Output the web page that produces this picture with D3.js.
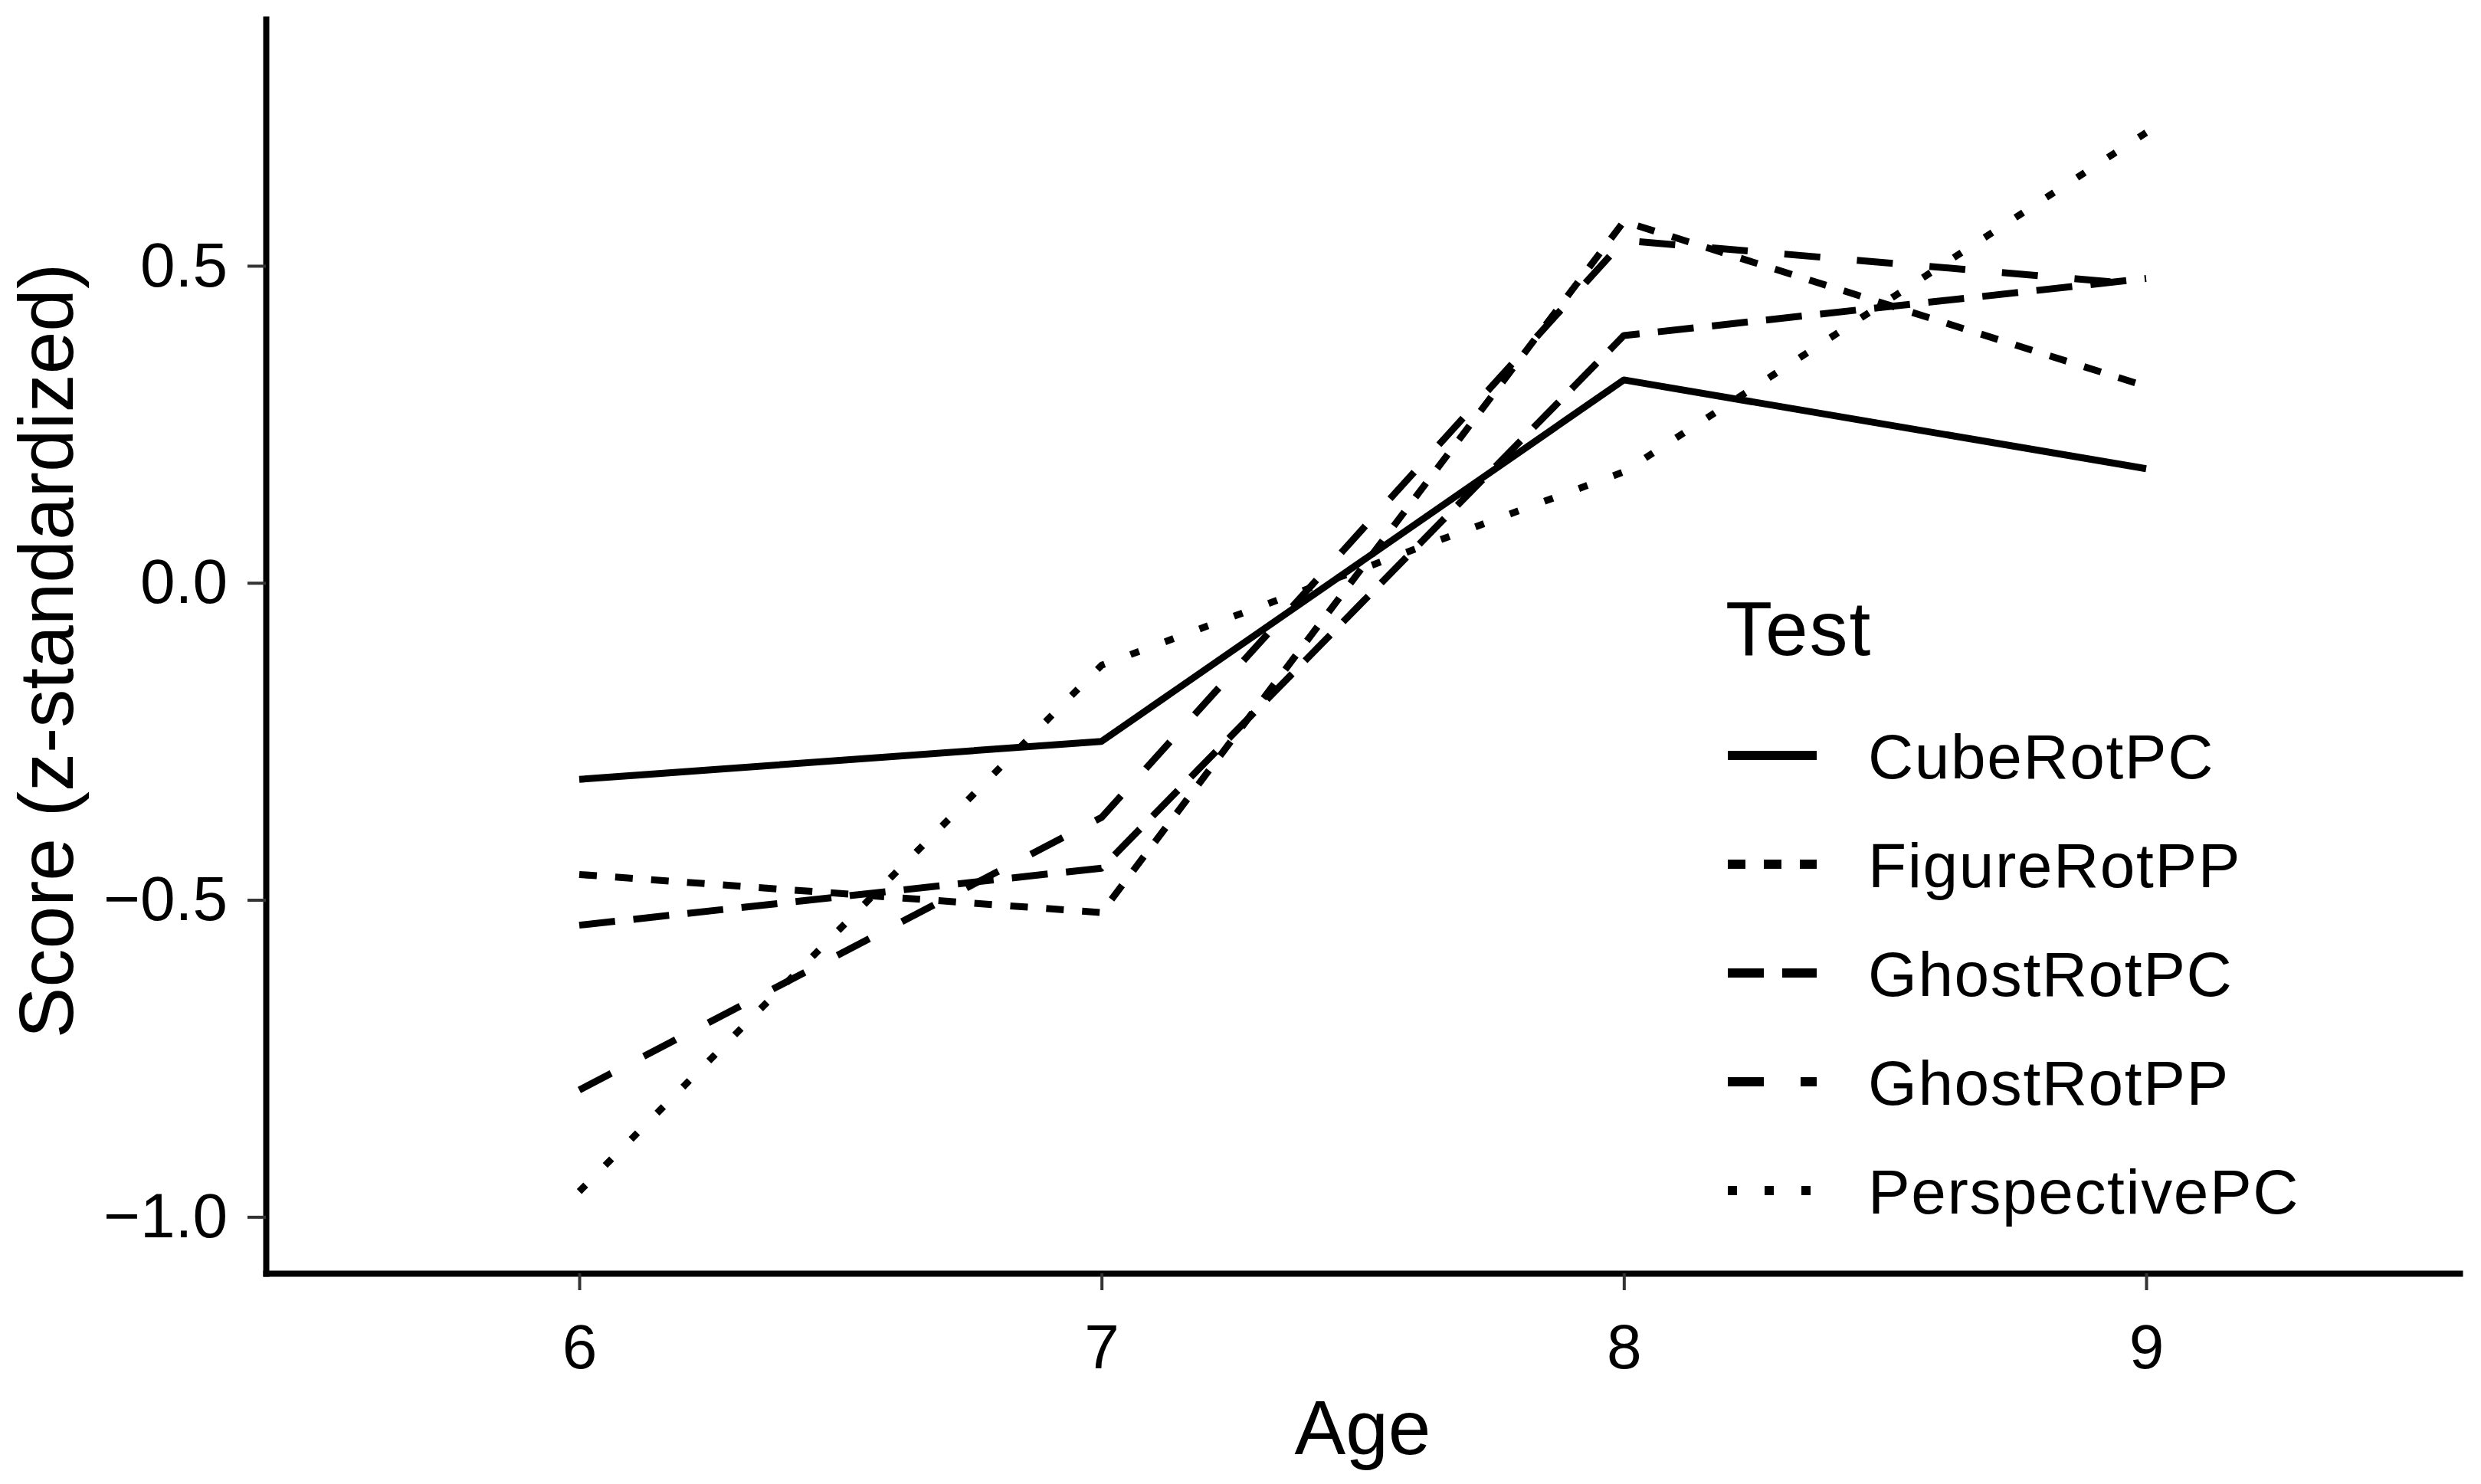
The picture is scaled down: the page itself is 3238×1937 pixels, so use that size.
<!DOCTYPE html>
<html>
<head>
<meta charset="utf-8">
<script src="https://cdn.jsdelivr.net/npm/d3@7"></script>
<style>
  body { margin: 0; background: #fff; }
  text { font-family: "Liberation Sans", Arial, sans-serif; }
</style>
</head>
<body>
<svg width="3238" height="1937"></svg>
<script>
// data
const ages = [6, 7, 8, 9];
const tests = ["CubeRotPC", "FigureRotPP", "GhostRotPC", "GhostRotPP", "PerspectivePC"];
const cubeRotPC     = [-0.31, -0.25, 0.32, 0.18];
const figureRotPP   = [-0.46, -0.52, 0.57, 0.31];
const ghostRotPC    = [-0.54, -0.45, 0.39, 0.48];
const ghostRotPP    = [-0.80, -0.37, 0.54, 0.47];
const perspectivePC = [-0.96, -0.13, 0.175, 0.71];
const yTicks = [-1.0, -0.5, 0.0, 0.5];

const seriesValues = [cubeRotPC, figureRotPP, ghostRotPC, ghostRotPP, perspectivePC];
// linetypes: solid, short dash, long dash, dash, dotted
const dashes = ["none", "23,24", "47,24", "47,48", "12,36"];

const svg = d3.select("svg");
const plotLeft = 347, plotRight = 3210, plotTop = 25, plotBottom = 1662;

const x = d3.scaleLinear().domain([5.4, 9.6]).range([plotLeft, plotRight]);
const y = d3.scaleLinear().domain([-1.089, 0.889]).range([plotBottom, plotTop]);

// lines
const line = d3.line()
    .x((d, i) => x(ages[i]))
    .y(d => y(d));

svg.append("g")
    .selectAll("path")
    .data(seriesValues)
    .join("path")
    .attr("d", d => line(d))
    .attr("fill", "none")
    .attr("stroke", "#000")
    .attr("stroke-width", 9)
    .attr("stroke-linejoin", "round")
    .attr("stroke-dasharray", (d, i) => dashes[i]);

// y axis
const yAxis = svg.append("g")
    .attr("transform", `translate(${plotLeft},0)`)
    .call(d3.axisLeft(y).tickValues(yTicks).tickFormat(d3.format(".1f")).tickSize(24).tickSizeOuter(0).tickPadding(26));
yAxis.select(".domain").attr("stroke", "#000").attr("stroke-width", 8).attr("stroke-linecap", "square");
yAxis.selectAll(".tick line").attr("stroke", "#333").attr("stroke-width", 4);
yAxis.selectAll(".tick text")
    .attr("font-family", "Liberation Sans, Arial, sans-serif")
    .attr("font-size", 82)
    .attr("fill", "#000")
    .text(d => d3.format(".1f")(d).replace("-", "\u2212"));

// x axis
const xAxis = svg.append("g")
    .attr("transform", `translate(0,${plotBottom})`)
    .call(d3.axisBottom(x).tickValues(ages).tickFormat(d3.format("d")).tickSize(22).tickSizeOuter(0).tickPadding(44));
xAxis.select(".domain").attr("stroke", "#000").attr("stroke-width", 8).attr("stroke-linecap", "square");
xAxis.selectAll(".tick line").attr("stroke", "#333").attr("stroke-width", 4);
xAxis.selectAll(".tick text")
    .attr("font-family", "Liberation Sans, Arial, sans-serif")
    .attr("font-size", 82)
    .attr("fill", "#000");

// axis titles
svg.append("text")
    .attr("x", (plotLeft + plotRight) / 2)
    .attr("y", 1898)
    .attr("text-anchor", "middle")
    .attr("font-size", 100)
    .text("Age");

svg.append("text")
    .attr("transform", `translate(95,${(plotTop + plotBottom) / 2 + 6}) rotate(-90)`)
    .attr("text-anchor", "middle")
    .attr("font-size", 100)
    .text("Score (z-standardized)");

// legend
const legend = svg.append("g");
legend.append("text")
    .attr("x", 2252)
    .attr("y", 855)
    .attr("font-size", 100)
    .attr("letter-spacing", 2)
    .text("Test");

const rows = legend.selectAll("g.row")
    .data(tests)
    .join("g")
    .attr("class", "row")
    .attr("transform", (d, i) => `translate(0,${986 + i * 142})`);

rows.append("line")
    .attr("x1", 2255)
    .attr("x2", 2371)
    .attr("stroke", "#000")
    .attr("stroke-width", 12)
    .attr("stroke-dasharray", (d, i) => dashes[i]);

rows.append("text")
    .attr("x", 2438)
    .attr("y", 30)
    .attr("font-size", 82)
    .attr("letter-spacing", 1.6)
    .text(d => d);
</script>
</body>
</html>
